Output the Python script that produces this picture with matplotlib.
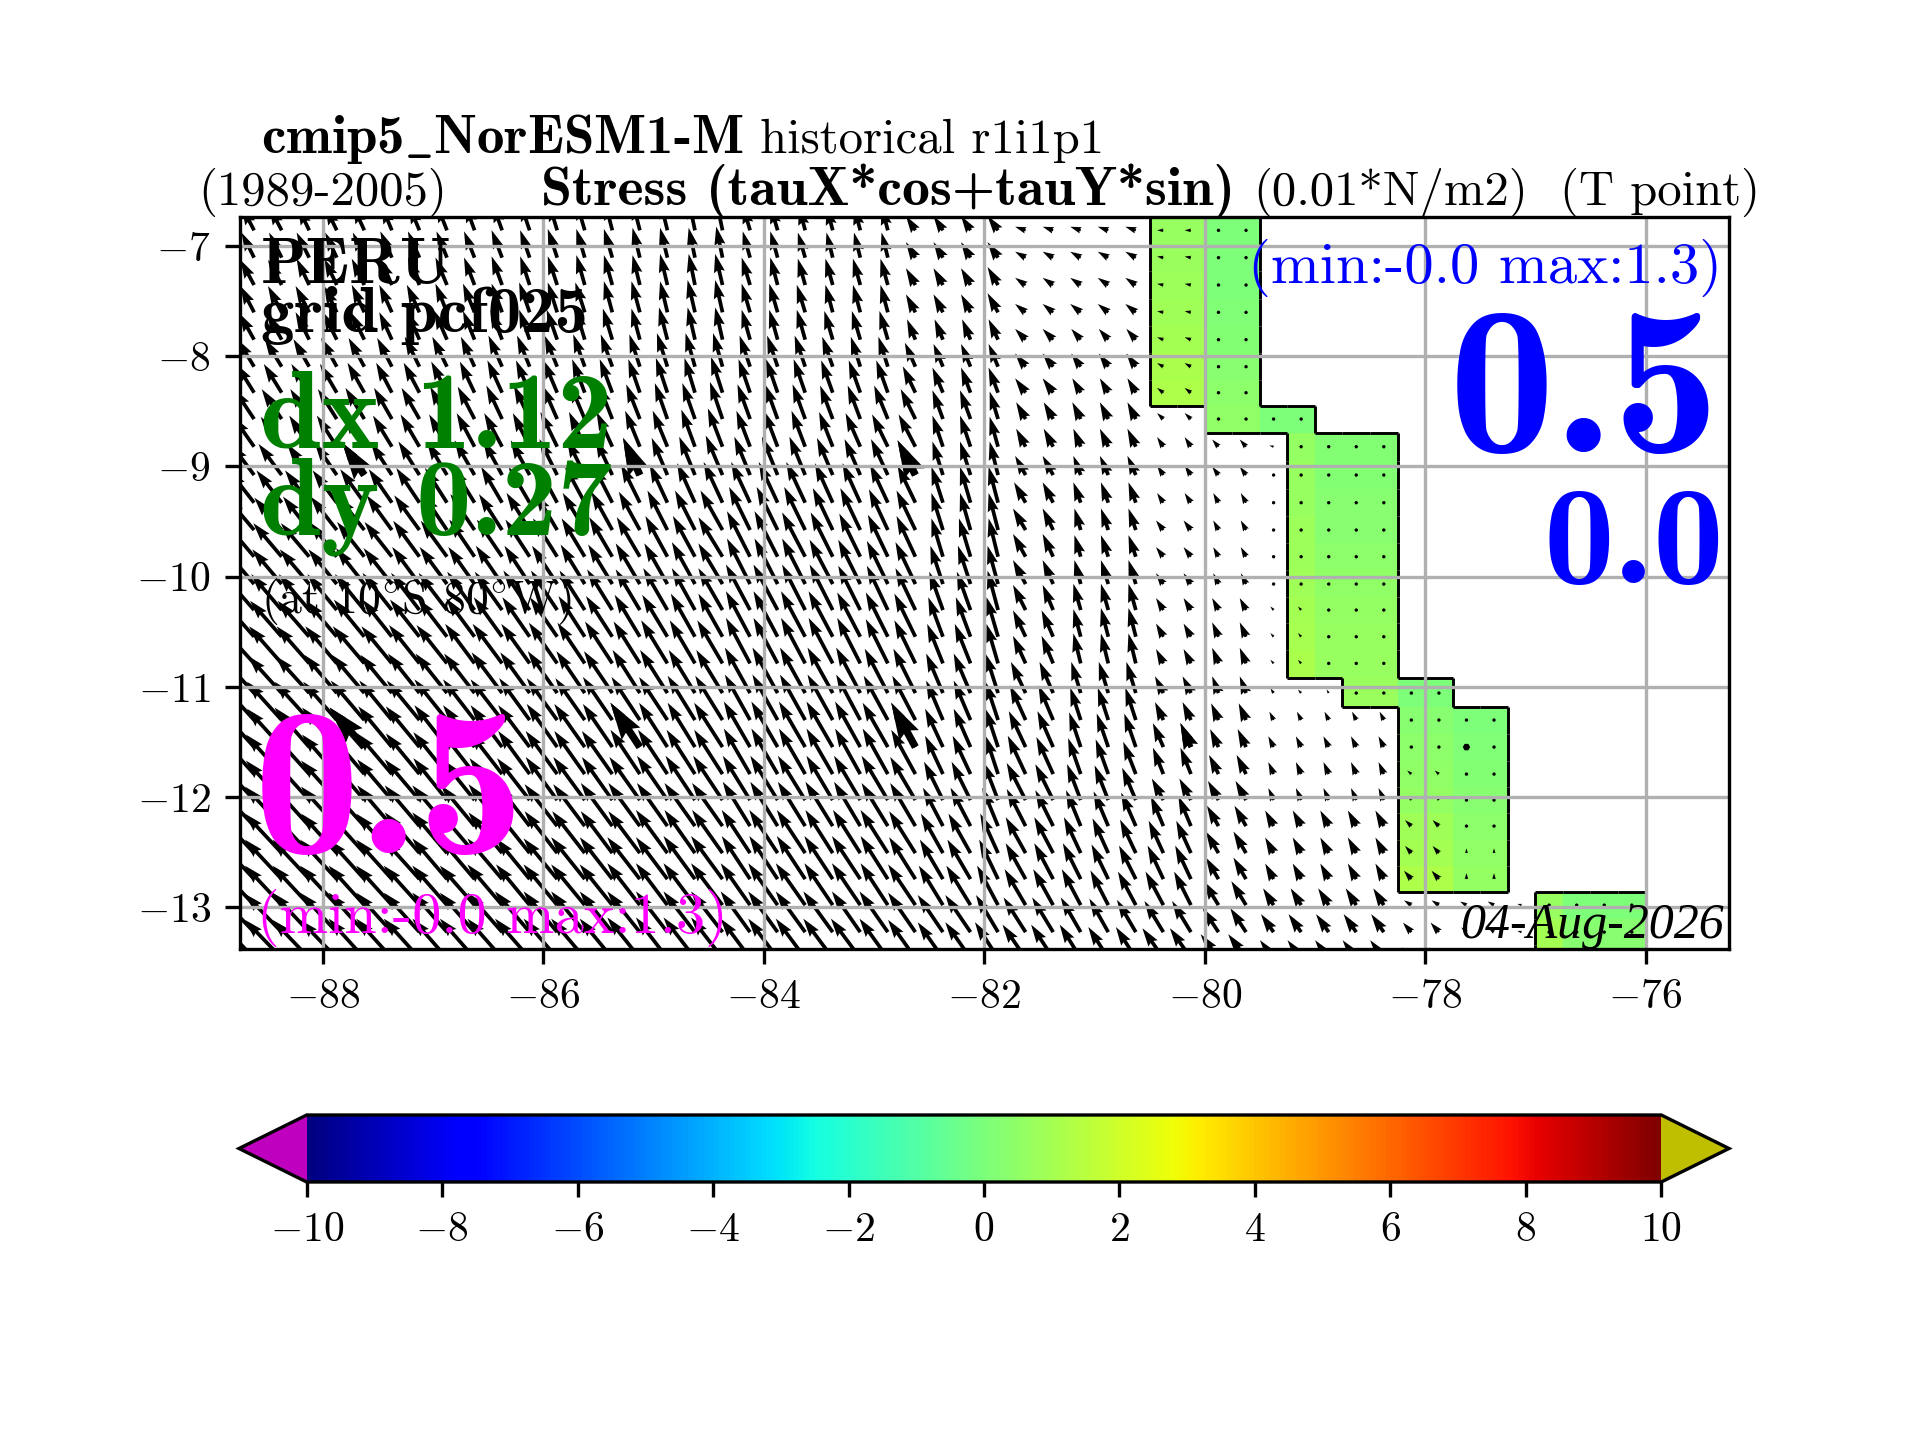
import numpy as np
import matplotlib
matplotlib.use("Agg")
import matplotlib.pyplot as plt
from matplotlib.collections import LineCollection
from matplotlib.cm import ScalarMappable
from matplotlib.colors import Normalize

plt.rcParams['font.family'] = ['cmr10', 'DejaVu Serif']
plt.rcParams['mathtext.fontset'] = 'cm'
plt.rcParams['axes.formatter.use_mathtext'] = True
plt.rcParams['axes.linewidth'] = 0.8

# grid of the field
lons = [-88.625 + 0.25 * j for j in range(54)]
lats = [-6.858, -7.106, -7.354, -7.602, -7.850, -8.095, -8.331, -8.570, -8.821, -9.078,
        -9.329, -9.577, -9.819, -10.067, -10.303, -10.545, -10.787, -11.056, -11.301, -11.546,
        -11.791, -12.027, -12.263, -12.508, -12.744, -12.980, -13.225, -13.461]

# stress vectors, 0.001 N/m2, one list per latitude, west to east up to the coast
tau_x = [
 [-12,-12,-11,-11,-11,-10,-10,-10,-9,-9,-9,-8,-8,-7,-7,-7,-6,-6,-7,-7,-6,-6,-6,-6,-9,-9,-9,-10,-10,-10,-10,-10,-10,-6,-6,0,0],
 [-12,-12,-12,-11,-11,-11,-11,-10,-10,-10,-9,-9,-8,-8,-7,-7,-6,-6,-7,-7,-7,-6,-6,-6,-9,-9,-9,-10,-10,-10,-10,-10,-10,-6,-6,0,0],
 [-13,-13,-12,-12,-12,-11,-11,-11,-10,-10,-9,-9,-8,-8,-7,-7,-6,-7,-8,-7,-7,-7,-7,-7,-9,-9,-9,-10,-10,-10,-10,-10,-10,-6,-6,0,0],
 [-13,-13,-13,-12,-12,-12,-12,-11,-11,-10,-10,-9,-9,-8,-8,-7,-7,-7,-8,-8,-8,-7,-7,-7,-9,-9,-9,-10,-10,-10,-10,-10,-10,-6,-6,0,0],
 [-14,-14,-13,-13,-13,-12,-12,-12,-11,-11,-10,-10,-9,-9,-8,-8,-7,-7,-8,-8,-8,-8,-8,-8,-8,-8,-8,-9,-10,-10,-9,-9,-9,-6,-6,0,0],
 [-16,-16,-15,-15,-15,-14,-14,-14,-13,-13,-12,-12,-11,-11,-10,-10,-9,-9,-10,-10,-10,-10,-9,-9,-10,-9,-9,-9,-10,-10,-9,-9,-9,-6,-6,0,0],
 [-17,-17,-17,-16,-16,-15,-15,-15,-14,-14,-13,-13,-12,-12,-11,-11,-10,-11,-11,-11,-11,-11,-11,-11,-12,-10,-9,-9,-10,-10,-8,-8,-8,-6,-6,0,0],
 [-19,-19,-18,-18,-18,-17,-17,-16,-16,-15,-15,-14,-14,-13,-13,-12,-12,-12,-12,-12,-12,-12,-12,-13,-14,-10,-10,-8,-9,-9,-8,-8,-8,-6,-6,0,0,0,0],
 [-20,-20,-19,-19,-19,-18,-18,-17,-17,-17,-16,-16,-15,-15,-14,-14,-13,-14,-13,-13,-13,-13,-14,-15,-16,-10,-10,-8,-9,-9,-7,-8,-8,-6,-6,-6,-6,-4,-3,0,0,0],
 [-22,-22,-21,-21,-21,-20,-20,-19,-19,-18,-18,-17,-17,-16,-16,-15,-15,-16,-15,-15,-15,-15,-15,-16,-17,-10,-10,-8,-10,-10,-7,-8,-8,-6,-6,-6,-6,-3,-3,0,0,0],
 [-24,-24,-23,-23,-23,-22,-22,-21,-21,-20,-20,-19,-19,-18,-18,-17,-17,-18,-18,-18,-18,-17,-17,-17,-17,-11,-10,-9,-11,-10,-7,-7,-7,-6,-6,-5,-5,-2,-2,0,0,0],
 [-26,-26,-25,-25,-25,-24,-24,-23,-23,-22,-22,-21,-21,-20,-20,-19,-19,-21,-20,-20,-20,-19,-19,-18,-18,-11,-10,-9,-12,-10,-6,-7,-7,-7,-7,-5,-5,-2,-2,0,0,0],
 [-27,-27,-27,-26,-26,-26,-25,-25,-24,-24,-23,-23,-22,-22,-22,-21,-21,-23,-22,-22,-22,-21,-20,-19,-18,-11,-11,-9,-12,-10,-6,-7,-7,-7,-7,-5,-5,-2,-2,0,0,0],
 [-28,-28,-28,-27,-27,-27,-26,-26,-25,-25,-24,-24,-23,-23,-23,-22,-22,-23,-22,-22,-22,-22,-21,-20,-19,-12,-12,-10,-12,-10,-6,-7,-7,-7,-7,-5,-5,-2,-2,0,0,0],
 [-29,-29,-29,-28,-28,-28,-27,-27,-26,-26,-25,-25,-24,-24,-23,-23,-22,-23,-23,-23,-22,-22,-21,-20,-19,-13,-13,-10,-12,-10,-7,-7,-7,-7,-7,-6,-6,-3,-3,0,0,0],
 [-30,-30,-30,-29,-29,-28,-28,-28,-27,-27,-26,-26,-25,-25,-24,-24,-23,-23,-23,-23,-23,-23,-22,-21,-20,-14,-14,-11,-12,-11,-7,-7,-7,-7,-7,-6,-6,-3,-3,0,0,0],
 [-31,-31,-31,-30,-30,-29,-29,-29,-28,-28,-27,-27,-26,-26,-25,-25,-24,-24,-23,-23,-23,-23,-22,-21,-20,-15,-15,-11,-12,-11,-7,-7,-7,-7,-7,-6,-6,-3,-3,0,0,0],
 [-32,-32,-32,-31,-31,-30,-30,-30,-29,-29,-28,-28,-27,-27,-26,-26,-25,-25,-24,-24,-24,-24,-23,-22,-21,-16,-16,-12,-14,-13,-9,-9,-9,-8,-8,-6,-6,-3,-3,-2,0,0,0,0],
 [-33,-33,-33,-32,-32,-31,-31,-31,-30,-30,-29,-29,-28,-28,-27,-27,-26,-26,-24,-24,-24,-24,-23,-23,-22,-16,-16,-12,-15,-14,-10,-10,-10,-8,-8,-7,-7,-4,-4,-4,-4,-4,-3,-3,0,0],
 [-33,-33,-33,-33,-33,-32,-32,-31,-30,-30,-30,-29,-29,-28,-28,-27,-26,-27,-25,-25,-25,-25,-24,-24,-23,-17,-16,-12,-16,-15,-11,-11,-11,-10,-10,-8,-8,-5,-5,-5,-5,-5,-3,-3,0,0],
 [-34,-34,-34,-33,-33,-33,-32,-32,-31,-31,-30,-30,-29,-29,-28,-28,-27,-27,-25,-25,-25,-25,-24,-24,-23,-17,-17,-12,-17,-16,-12,-12,-12,-10,-10,-9,-9,-5,-5,-5,-5,-5,-4,-4,0,0],
 [-34,-34,-34,-34,-33,-33,-33,-32,-32,-31,-31,-30,-30,-29,-29,-29,-28,-28,-26,-26,-26,-25,-25,-25,-24,-18,-18,-14,-18,-17,-13,-13,-13,-11,-11,-10,-10,-5,-5,-5,-5,-5,-3,-3,0,0],
 [-35,-35,-34,-34,-34,-33,-33,-33,-32,-32,-31,-31,-30,-30,-30,-29,-29,-29,-26,-26,-26,-26,-25,-25,-24,-19,-19,-15,-18,-17,-14,-14,-14,-12,-12,-11,-11,-8,-8,-8,-8,-8,-6,-6,0,0],
 [-35,-35,-35,-34,-34,-34,-33,-33,-33,-32,-32,-31,-31,-30,-30,-30,-29,-29,-27,-27,-27,-26,-26,-26,-25,-21,-21,-17,-19,-18,-16,-15,-15,-14,-14,-12,-12,-8,-8,-8,-8,-8,-6,-6,0,0],
 [-35,-35,-35,-35,-34,-34,-34,-33,-33,-33,-32,-32,-32,-31,-31,-30,-30,-30,-27,-27,-27,-27,-27,-26,-25,-22,-22,-18,-19,-18,-17,-16,-16,-15,-15,-12,-12,-8,-8,-8,-8,-8,-7,-7,0,0],
 [-35,-35,-35,-35,-34,-34,-34,-33,-33,-33,-32,-32,-32,-31,-31,-30,-30,-30,-28,-28,-28,-27,-27,-26,-26,-23,-23,-20,-20,-19,-18,-17,-17,-17,-16,-14,-14,-10,-10,-10,-10,-10,-7,-7,-6,-6,-4,0,0,0,0],
 [-35,-35,-35,-35,-34,-34,-34,-33,-33,-33,-33,-32,-32,-31,-31,-30,-30,-30,-28,-28,-28,-28,-27,-27,-26,-24,-24,-21,-21,-20,-19,-18,-18,-18,-18,-15,-15,-12,-12,-12,-12,-12,-8,-8,-5,-5,-4,0,0,0,0],
 [-35,-35,-35,-35,-34,-34,-34,-33,-33,-33,-33,-32,-32,-31,-31,-30,-30,-30,-28,-28,-28,-28,-28,-27,-26,-24,-24,-22,-22,-21,-20,-19,-19,-20,-20,-17,-17,-13,-13,-13,-13,-13,-9,-9,-5,-5,-4,0,0,0,0],
]
tau_y = [
 [20,20,20,20,21,21,21,22,22,22,23,23,24,24,24,25,25,25,21,21,20,20,20,20,12,12,12,12,3,3,3,3,3,0,0,0,0],
 [21,21,21,21,21,22,22,22,22,23,23,24,24,24,25,25,25,26,22,22,21,21,21,21,13,13,13,13,5,5,5,5,5,1,1,0,0],
 [21,21,22,22,22,22,23,23,23,24,24,24,25,25,25,26,26,26,23,23,22,22,22,22,14,14,14,15,6,6,6,6,6,1,1,0,0],
 [22,22,22,22,23,23,23,24,24,24,25,25,25,26,26,26,27,27,24,24,23,23,23,23,15,15,15,16,7,7,7,7,7,1,1,0,0],
 [22,22,23,23,23,23,24,24,24,25,25,25,26,26,26,27,27,27,25,25,25,24,24,24,17,17,17,17,9,9,9,9,9,2,2,0,0],
 [23,23,23,24,24,24,25,25,25,26,26,26,27,27,27,28,28,28,26,26,26,25,25,25,20,19,19,19,11,11,11,11,11,3,3,2,2],
 [24,24,24,24,25,25,25,26,26,27,27,27,28,28,28,29,29,30,28,28,28,27,27,27,22,21,21,21,12,12,12,12,12,4,4,2,2],
 [25,25,25,25,26,26,26,27,27,28,28,28,29,29,29,30,30,31,29,29,29,28,28,28,25,24,24,23,14,14,14,14,14,5,5,3,3,0,0],
 [25,25,26,26,26,26,27,27,28,28,28,29,29,29,30,30,31,32,30,30,30,29,28,27,27,26,26,25,15,15,15,15,15,8,8,6,6,1,0,0,0,0],
 [26,26,26,27,27,27,28,28,29,29,29,30,30,30,31,31,32,33,32,32,32,31,30,30,29,28,28,28,16,16,16,16,16,8,8,7,7,1,0,0,0,0],
 [27,27,27,27,28,28,29,29,30,30,30,31,31,31,32,32,33,34,34,34,34,33,33,32,31,30,30,30,17,17,17,17,17,8,8,8,8,1,1,0,0,0],
 [27,27,28,28,28,29,29,30,30,30,31,31,31,32,32,33,33,33,36,36,36,35,35,34,33,31,31,31,18,18,18,18,18,8,8,8,8,2,2,1,1,1],
 [28,28,28,29,29,29,30,30,31,31,31,32,32,33,33,34,34,33,38,38,37,37,36,35,34,32,32,32,19,19,18,18,18,8,8,8,8,2,2,1,1,1],
 [29,29,29,29,30,30,31,31,31,32,32,32,33,33,34,34,35,34,38,38,38,37,37,36,35,32,32,32,20,20,20,20,20,9,9,9,9,2,2,2,2,2],
 [29,30,30,30,30,31,31,31,32,32,33,33,33,34,34,35,35,35,38,38,38,38,37,37,35,32,32,33,21,21,22,22,22,10,10,10,10,3,3,2,2,2],
 [30,30,30,30,31,31,31,32,32,33,33,33,34,34,35,35,36,36,38,38,38,38,37,37,36,33,33,33,22,22,23,24,24,11,11,12,12,3,3,3,3,3],
 [30,31,31,31,31,31,32,32,33,33,33,34,34,35,35,36,36,36,38,38,38,38,38,37,36,33,33,33,23,23,25,25,25,12,12,13,13,3,3,3,3,3],
 [31,31,31,32,32,32,33,33,33,34,34,35,35,35,36,36,36,36,38,38,38,38,38,37,37,33,33,33,26,26,26,26,26,14,14,14,14,4,3,3,3,3,0,0],
 [32,32,32,32,33,33,33,34,34,34,35,35,35,36,36,36,37,37,38,38,38,38,38,37,37,33,33,32,29,29,27,27,27,15,15,14,14,7,7,7,7,7,0,0,0,0],
 [32,32,33,33,33,34,34,35,35,35,35,36,36,36,37,37,37,37,38,38,38,38,38,37,37,32,32,32,30,30,29,28,28,20,20,15,15,9,9,9,9,9,0,0,0,0],
 [33,33,33,33,34,34,34,35,35,35,36,36,36,36,37,37,37,37,38,38,38,38,38,38,37,32,32,32,32,31,30,29,27,22,22,16,16,10,10,10,10,10,3,3,0,0],
 [33,33,33,33,34,34,34,35,35,35,35,36,36,36,36,37,37,37,37,37,37,37,37,37,36,32,32,32,31,30,30,29,27,18,18,16,16,10,10,10,10,10,3,3,2,2],
 [33,33,33,33,33,34,34,34,34,35,35,35,35,36,36,36,36,36,37,37,37,37,37,36,36,32,32,32,31,30,30,29,28,25,25,17,17,13,13,13,13,13,5,5,3,3],
 [33,33,33,33,33,33,34,34,34,34,35,35,35,35,35,36,36,36,36,36,36,36,36,36,35,33,33,33,30,30,30,29,28,27,27,18,18,13,13,13,13,13,6,6,4,4],
 [33,33,33,33,33,33,33,34,34,34,34,34,35,35,35,35,36,36,36,36,36,36,36,36,35,33,33,33,30,30,30,29,28,28,28,18,18,13,13,13,13,13,7,7,5,5],
 [33,33,33,33,33,33,33,33,33,34,34,34,34,34,35,35,35,35,35,35,35,35,35,35,34,33,33,33,30,30,30,29,28,28,28,20,20,14,14,14,14,14,4,4,3,3,1,1,1,1,1],
 [32,32,33,33,33,33,33,33,33,33,34,34,34,34,34,34,34,34,34,34,34,34,34,34,33,31,31,31,29,29,29,28,27,26,26,20,20,15,15,15,15,15,8,8,4,3,1,1,1,1,1],
 [32,32,32,32,33,33,33,33,33,33,33,33,33,33,34,34,34,34,33,33,33,33,33,33,32,30,30,30,28,28,28,26,26,25,25,20,20,15,15,15,15,15,9,9,4,3,1,1,1,1,1],
]

# cells drawn with a heavier arrow (row, column)
heavy_rows = [9, 9, 9, 19, 19, 19, 19, 19]
heavy_cols = [4, 14, 24, 4, 14, 24, 34, 44]

# coastal band, 0.01 N/m2: first column of each row and its values
ribbon_start = [33, 33, 33, 33, 33, 33, 33, 35, 38, 38, 38, 38, 38, 38, 38, 38, 38, 40, 42, 42, 42, 42, 42, 42, 42, 47, 47, 47]
ribbon_vals = [
 [.7, .7, 0, 0], [.75, .75, 0, 0], [.8, .8, .05, .05], [.9, .9, .1, .1], [1., 1., .2, .2], [1.1, 1.1, .3, .3],
 [1.2, 1.2, .4, .4], [.5, .5, 0, 0], [.6, .2, .2, .2], [.65, .2, .2, .2], [.7, .25, .25, .25], [.8, .3, .3, .3],
 [.85, .4, .4, .4], [.9, .5, .5, .5], [1., .6, .6, .6], [1.05, .65, .65, .65], [1.1, .7, .7, .7], [.75, .75, 0, 0],
 [.3, .3, .05, .05], [.4, .4, .1, .1], [.5, .5, .2, .2], [.6, .6, .25, .25], [.9, .9, .4, .4], [1., 1., .5, .5],
 [1.2, 1.2, .6, .6], [.7, 0, 0, 0], [1., .3, .3, .3], [1., .3, .3, .3],
]

xticks = [-88, -86, -84, -82, -80, -78, -76]
yticks = [-7, -8, -9, -10, -11, -12, -13]
cbar_ticks = [-10, -8, -6, -4, -2, 0, 2, 4, 6, 8, 10]

# arrow calibration against the picture
ARROW_SCALE = 1418
TAU_Y_GAIN = 1.14


def pad_rows(rows):
    out = np.full((len(lats), len(lons)), np.nan)
    for i, row in enumerate(rows):
        out[i, :len(row)] = row
    return out


fig = plt.figure(figsize=(6.4, 4.8), dpi=300)
ax = fig.add_axes([240 / 1920, 1 - 949 / 1440, 1489 / 1920, 732 / 1440])

band = np.full((len(lats), len(lons)), np.nan)
for i, first in enumerate(ribbon_start):
    band[i, first:first + len(ribbon_vals[i])] = ribbon_vals[i]

cmap = plt.get_cmap('jet').copy()
cmap.set_under('m')
cmap.set_over('y')
norm = Normalize(-10, 10)
ax.pcolormesh(lons, lats, np.ma.masked_invalid(band), cmap=cmap, norm=norm, shading='nearest', zorder=0.5)

# step outline of the band
xe = np.r_[lons[0] - .125, np.array(lons[:-1]) + .125, lons[-1] + .125]
lat_arr = np.array(lats)
ye = np.r_[lat_arr[0] + .12, (lat_arr[:-1] + lat_arr[1:]) / 2, lat_arr[-1] - .12]
inside = ~np.isnan(band)
segs = []
for i in range(inside.shape[0]):
    for j in range(inside.shape[1]):
        if not inside[i, j]:
            continue
        if j == 0 or not inside[i, j - 1]:
            segs.append([(xe[j], ye[i]), (xe[j], ye[i + 1])])
        if j == inside.shape[1] - 1 or not inside[i, j + 1]:
            segs.append([(xe[j + 1], ye[i]), (xe[j + 1], ye[i + 1])])
        if i == 0 or not inside[i - 1, j]:
            segs.append([(xe[j], ye[i]), (xe[j + 1], ye[i])])
        if i == inside.shape[0] - 1 or not inside[i + 1, j]:
            segs.append([(xe[j], ye[i + 1]), (xe[j + 1], ye[i + 1])])
ax.add_collection(LineCollection(segs, colors='k', linewidths=0.7, zorder=1.2))

# arrows
lon2d, lat2d = np.meshgrid(lons, lats)
u = np.ma.masked_invalid(pad_rows(tau_x))
v = np.ma.masked_invalid(pad_rows(tau_y)) * TAU_Y_GAIN
ax.quiver(lon2d, lat2d, u, v, angles='uv', scale=ARROW_SCALE, scale_units='width', width=0.0025, zorder=1)
ax.quiver(lon2d[heavy_rows, heavy_cols], lat2d[heavy_rows, heavy_cols], u[heavy_rows, heavy_cols],
          v[heavy_rows, heavy_cols], angles='uv', scale=ARROW_SCALE, scale_units='width', width=0.005, zorder=1)

ax.set_xlim(-88.753, -75.243)
ax.set_ylim(-13.378, -6.737)
ax.set_xticks(xticks)
ax.set_yticks(yticks)
ax.grid(True)


def put(x, y, s, size, color='k', family='cmr10', ha='left', style='normal'):
    fig.text(x / 1920, 1 - y / 1440, s, fontsize=size, color=color, family=[family, 'DejaVu Serif'],
             ha=ha, va='baseline', style=style, zorder=5)


# title lines
put(261, 153, r'cmip5$\_$NorESM1-M', 13.2, family='cmb10')
put(760, 153, 'historical r1i1p1', 11.7)
put(198, 205, '(1989-2005)', 11.7)
put(541, 205, 'Stress (tauX*cos+tauY*sin)', 13.4, family='cmb10')
put(1253, 205, '(0.01*N/m2)', 11.7)
put(1560, 205, '(T point)', 11.7)

# labels in the map
put(261, 283, 'PERU', 16, family='cmb10')
put(261, 332, 'grid pcf025', 16, family='cmb10')
put(260, 447, 'dx 1.12', 26.5, color='green', family='cmb10')
put(260, 535, 'dy 0.27', 26.5, color='green', family='cmb10')
put(261, 613, r'(at 10$^{\circ}$S 80$^{\circ}$W)', 11)
put(254, 853, '0.5', 51, color='magenta', family='cmb10')
put(257, 933, '(min:-0.0 max:1.3)', 14, color='magenta')
put(1722, 283, '(min:-0.0 max:1.3)', 14.1, color='blue', ha='right')
put(1720, 452, '0.5', 51, color='blue', family='cmb10', ha='right')
put(1724, 583, '0.0', 34, color='blue', family='cmb10', ha='right')
put(1724, 938, '04-Aug-2026', 12, family='Liberation Serif', ha='right', style='italic')

# colour bar
cax = fig.add_axes([239 / 1920, 1 - 1182 / 1440, 1490 / 1920, 67 / 1440])
cb = fig.colorbar(ScalarMappable(norm=norm, cmap=cmap), cax=cax, orientation='horizontal',
                  extend='both', ticks=cbar_ticks)

fig.savefig('out.png', dpi=300)
